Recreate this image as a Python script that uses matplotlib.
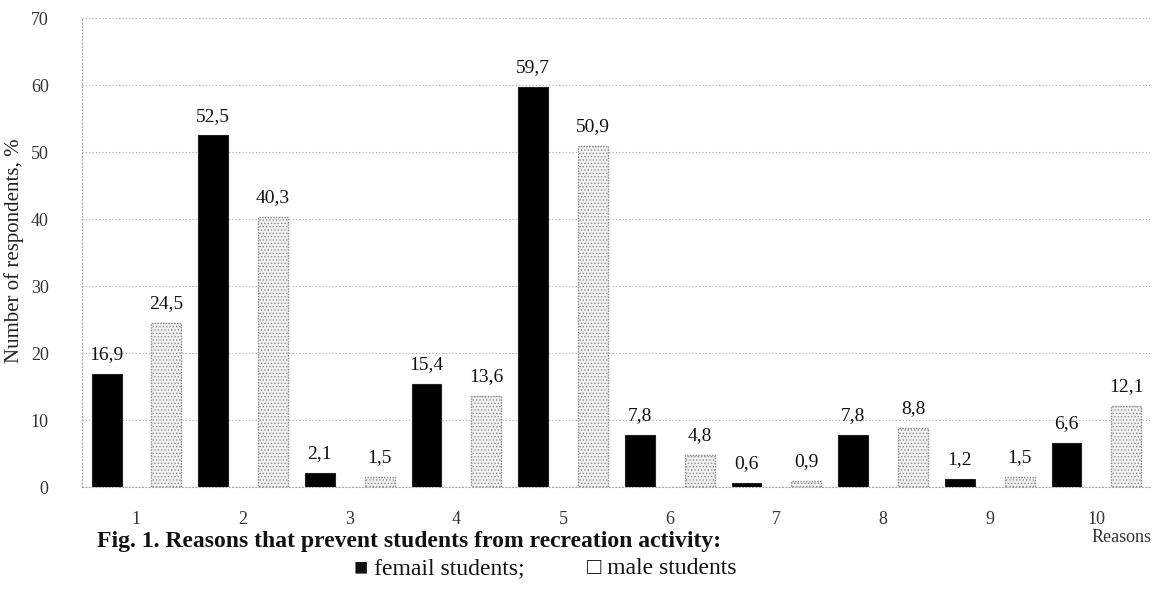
import matplotlib
matplotlib.use("Agg")
import matplotlib.pyplot as plt
import numpy as np

reasons = ["1", "2", "3", "4", "5", "6", "7", "8", "9", "10"]
female = [16.9, 52.5, 2.1, 15.4, 59.7, 7.8, 0.6, 7.8, 1.2, 6.6]
male = [24.5, 40.3, 1.5, 13.6, 50.9, 4.8, 0.9, 8.8, 1.5, 12.1]
yticks = [0, 10, 20, 30, 40, 50, 60, 70]

plt.rcParams['font.family'] = ['Liberation Serif', 'DejaVu Serif']
plt.rcParams['hatch.color'] = '#b0b0b0'
plt.rcParams['hatch.linewidth'] = 0.6

fig = plt.figure(figsize=(11.72, 5.89), dpi=100)
ax = fig.add_axes([0.070, 0.173, 0.911, 0.796])

x = np.arange(1, len(reasons) + 1)
w = 0.28
off = 0.28

ax.bar(x - off, female, width=w, color='black', edgecolor='#222222', linewidth=0.8, zorder=3)
ax.bar(x + off, male, width=w, facecolor='#f2f2f2', edgecolor='#8a8a8a',
       hatch='.....', linewidth=1.0, linestyle=(0, (1, 1)), zorder=3)

for xi, v in zip(x - off, female):
    ax.text(xi, v + 1.6, f"{v:.1f}".replace('.', ','), ha='center', va='bottom', fontsize=14, color='#111111')
for xi, v in zip(x + off, male):
    ax.text(xi, v + 1.6, f"{v:.1f}".replace('.', ','), ha='center', va='bottom', fontsize=14, color='#111111')

ax.set_xlim(0.49, 10.5)
ax.set_ylim(0, 70)
ax.set_yticks(yticks)
ax.set_xticks(x)
ax.set_xticklabels(reasons)
ax.yaxis.grid(True, color='#a8a8a8', linestyle=(0, (1, 2)), linewidth=0.8, zorder=0)
for s in ['top', 'right']:
    ax.spines[s].set_visible(False)
for s in ['left', 'bottom']:
    ax.spines[s].set_color('#a8a8a8')
    ax.spines[s].set_linestyle((0, (1, 2)))
    ax.spines[s].set_linewidth(0.8)
ax.tick_params(axis='both', length=0, labelsize=13, colors='#333333')
ax.tick_params(axis='y', pad=24)
ax.tick_params(axis='x', pad=17)

ax.set_ylabel("Number of respondents, %", fontsize=15, color='#222222', labelpad=0)
ax.yaxis.set_label_coords(-0.054, 0.505)

fig.text(0.957, 0.088, "Reasons", ha='center', va='center', fontsize=13, color='#333333')
fig.text(0.083, 0.080, "Fig. 1. Reasons that prevent students from recreation activity:",
         ha='left', va='center', fontsize=17, fontweight='bold', color='#111111')
fig.text(0.302, 0.035, "\u25a0 femail students;", ha='left', va='center', fontsize=17, color='#111111',
         family=['Liberation Serif', 'DejaVu Sans'])
fig.text(0.501, 0.035, "\u25a1 male students", ha='left', va='center', fontsize=17, color='#111111',
         family=['Liberation Serif', 'DejaVu Sans'])

fig.savefig("out.png", dpi=100, facecolor='white')
